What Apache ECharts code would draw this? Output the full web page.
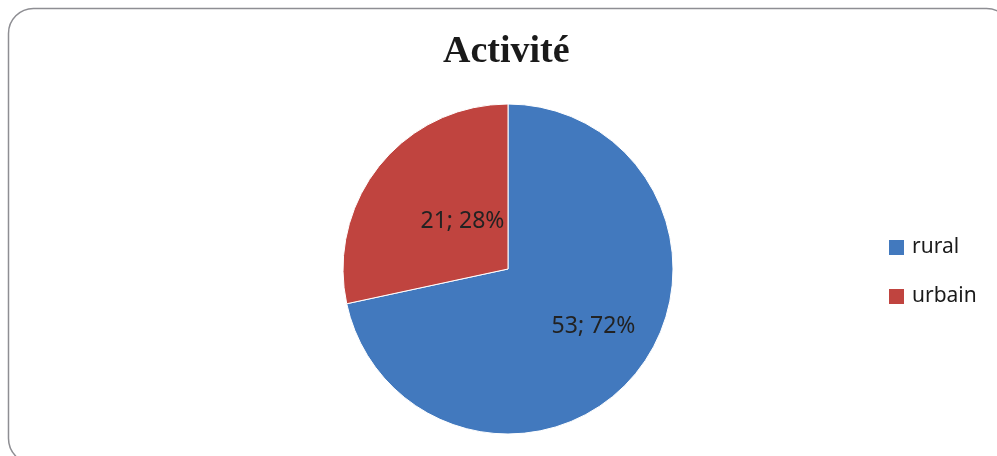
<!DOCTYPE html>
<html>
<head>
<meta charset="utf-8">
<script src="https://cdn.jsdelivr.net/npm/echarts@6/dist/echarts.min.js"></script>
<style>
html,body{margin:0;padding:0;background:#fff;}
#chart{width:997px;height:456px;}
</style>
</head>
<body>
<div id="chart"></div>
<script>
var titleText = "Activité";
var categories = ["rural", "urbain"];
var values = [53, 21];
var colors = ["#4279be", "#c0443f"];

var chart = echarts.init(document.getElementById('chart'), null, {renderer: 'canvas'});
var total = values.reduce(function(a, b){ return a + b; }, 0);
var labelOffsets = [[19, 4], [21, 6]];
var data = categories.map(function(c, i){
  return {
    name: c,
    value: values[i],
    itemStyle: {color: colors[i]},
    label: {offset: labelOffsets[i]}
  };
});
chart.setOption({
  animation: false,
  backgroundColor: '#ffffff',
  graphic: [{
    type: 'rect',
    shape: {x: 8.5, y: 8.5, width: 1003, height: 455, r: 25},
    style: {fill: 'none', stroke: '#8e8e93', lineWidth: 1.5},
    z: -1
  }],
  title: {
    text: titleText,
    left: 443,
    top: 33,
    padding: 0,
    textStyle: {fontFamily: 'Liberation Serif', fontWeight: 'bold', fontSize: 38, color: '#1a1a1a'}
  },
  legend: {
    orient: 'vertical',
    left: 887,
    top: 237,
    padding: 0,
    itemWidth: 17,
    itemHeight: 17,
    itemGap: 28,
    icon: 'rect',
    textStyle: {fontFamily: 'Noto Sans', fontSize: 21, color: '#1a1a1a', lineHeight: 17, padding: [0, 0, 0, 2]},
    data: categories
  },
  series: [{
    type: 'pie',
    center: [508, 269],
    radius: [0, 165],
    startAngle: 90,
    clockwise: true,
    itemStyle: {borderColor: '#ffffff', borderWidth: 1},
    label: {
      show: true,
      position: 'inside',
      fontFamily: 'Noto Sans',
      fontSize: 23,
      color: '#222222',
      formatter: function(p){ return p.value + '; ' + Math.round(p.value / total * 100) + '%'; }
    },
    labelLine: {show: false},
    emphasis: {disabled: true},
    data: data
  }]
});
</script>
</body>
</html>
